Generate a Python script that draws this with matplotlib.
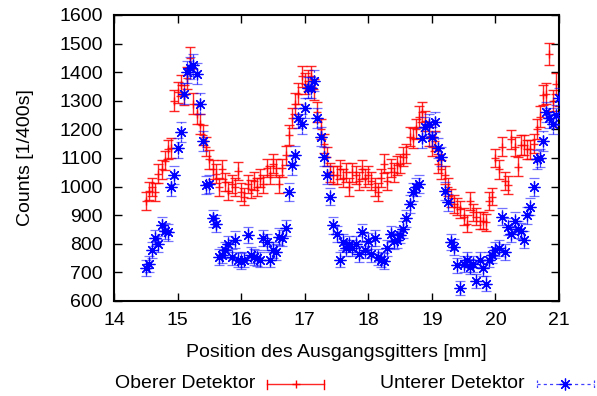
import numpy as np
import matplotlib
matplotlib.use("Agg")
import matplotlib.pyplot as plt
from matplotlib.lines import Line2D

plt.rcParams['font.family'] = ['Liberation Sans', 'DejaVu Sans']

# Positions [mm] (regular 0.05 mm grid from 14.5 to 21.0)
position = np.round(np.arange(14.5, 21.0001, 0.05), 2)

oberer = [
    950, 985, 1000, 980, 1045, 1060, 1090, 1130, 1135, 1300,
    1330, 1355, 1320, 1380, 1450, 1290, 1255, 1220, 1180, 1140,
    1095, 1060, 1045, 1000, 1060, 1015, 985, 1010, 1000, 1055,
    980, 965, 1010, 990, 1020, 1000, 1030, 1010, 1065, 1040,
    1080, 1065, 1010, 1065, 1110, 1180, 1240, 1290, 1325, 1385,
    1360, 1370, 1385, 1340, 1260, 1200, 1150, 1105, 1050, 1040,
    1040, 1060, 1030, 1050, 1000, 1050, 1040, 1020, 1060, 1030,
    1040, 1020, 1000, 980, 1030, 1080, 1020, 1065, 1050, 1075,
    1080, 1105, 1115, 1175, 1170, 1200, 1245, 1260, 1230, 1175,
    1140, 1160, 1080, 1060, 1040, 1000, 960, 940, 930, 920,
    895, 870, 950, 910, 895, 880, 880, 875, 950, 965,
    1100, 1060, 1140, 1020, 1005, 1165, 1140, 1070, 1145, 1145,
    1130, 1130, 1150, 1200, 1245, 1320, 1325, 1465, 1300, 1360,
    1245,
]

unterer = [
    715, 730, 780, 820, 800, 865, 845, 840, 1000, 1040,
    1135, 1190, 1325, 1400, 1415, 1425, 1395, 1290, 1160, 1005,
    1010, 890, 870, 755, 760, 780, 800, 755, 815, 745,
    740, 745, 830, 760, 755, 750, 745, 820, 805, 745,
    780, 770, 825, 820, 855, 980, 1075, 1110, 1240, 1220,
    1275, 1345, 1345, 1370, 1240, 1175, 1105, 1040, 965, 865,
    835, 745, 805, 785, 800, 785, 800, 765, 840, 780,
    810, 765, 820, 755, 745, 740, 785, 835, 810, 815,
    830, 850, 890, 940, 980, 1000, 1010, 1170, 1210, 1220,
    1175, 1225, 1135, 1105, 985, 945, 805, 790, 725, 645,
    730, 745, 720, 730, 670, 745, 715, 660, 745, 760,
    780, 785, 895, 770, 860, 835, 880, 850, 845, 815,
    900, 930, 1000, 1095, 1100, 1160, 1260, 1240, 1220, 1250,
    1310,
]

oberer = np.array(oberer, dtype=float)
unterer = np.array(unterer, dtype=float)

RED = '#ff0000'
BLUE = '#0000ff'
FS = 14

fig = plt.figure(figsize=(5.97, 3.96), dpi=100)
ax = fig.add_axes([114/597, 1 - 301/396, (559-114)/597, (301-15)/396])

# Oberer Detektor
ax.errorbar(position, oberer, yerr=np.sqrt(oberer), fmt='+', color=RED,
            ecolor=RED, elinewidth=1.0, capsize=3.8, capthick=1.0,
            markersize=6, markeredgewidth=1.0, alpha=0.85, zorder=2)

# Unterer Detektor
eb = ax.errorbar(position, unterer, yerr=np.sqrt(unterer), fmt='none',
                 ecolor=BLUE, elinewidth=0.9, capsize=3.8, capthick=0.9,
                 zorder=3, alpha=0.75)
for coll in eb[2]:
    coll.set_linestyle((0, (2.5, 2.5)))
for cap in eb[1]:
    cap.set_alpha(0.55)
ax.plot(position, unterer, linestyle='none', marker=(8, 2, 0), color=BLUE,
        markersize=8.5, markeredgewidth=0.9, zorder=4)

ax.set_xlim(14, 21)
ax.set_ylim(600, 1600)
ax.set_xticks(range(14, 22))
ax.set_yticks(range(600, 1601, 100))
ax.tick_params(direction='in', length=6, width=1.0, top=True, right=True,
               labelsize=FS, pad=8)
for s in ax.spines.values():
    s.set_linewidth(1.5)

ax.set_xlabel('Position des Ausgangsgitters [mm]', fontsize=FS, labelpad=11)
ax.set_ylabel('Counts [1/400s]', fontsize=FS, labelpad=18)

# Legend (gnuplot style: text first, then sample)
def px(x):
    return x / 597

def py(y):
    return 1 - y / 396

ly = py(384)
fig.text(px(255), ly, 'Oberer Detektor', ha='right', va='center', fontsize=FS)
fig.text(px(525), ly, 'Unterer Detektor', ha='right', va='center', fontsize=FS)

fig.add_artist(Line2D([px(267), px(324)], [ly, ly], color=RED, lw=1.0,
                      alpha=0.85, transform=fig.transFigure))
for xx in (267, 324):
    fig.add_artist(Line2D([px(xx), px(xx)], [py(380), py(389)], color=RED,
                          lw=1.0, transform=fig.transFigure))
fig.add_artist(Line2D([px(296)], [ly], color=RED, marker='+', markersize=6,
                      markeredgewidth=1.0, linestyle='none',
                      transform=fig.transFigure))

fig.add_artist(Line2D([px(537), px(594)], [ly, ly], color=BLUE, lw=0.9,
                      alpha=0.75, linestyle=(0, (2.5, 2.5)),
                      transform=fig.transFigure))
for xx in (537, 594):
    fig.add_artist(Line2D([px(xx), px(xx)], [py(380), py(389)], color=BLUE,
                          lw=0.9, alpha=0.75, linestyle=(0, (2, 2)),
                          transform=fig.transFigure))
fig.add_artist(Line2D([px(565)], [ly], color=BLUE, marker=(8, 2, 0),
                      markersize=8.5, markeredgewidth=0.9, linestyle='none',
                      transform=fig.transFigure))

fig.savefig('out.png', dpi=100)
